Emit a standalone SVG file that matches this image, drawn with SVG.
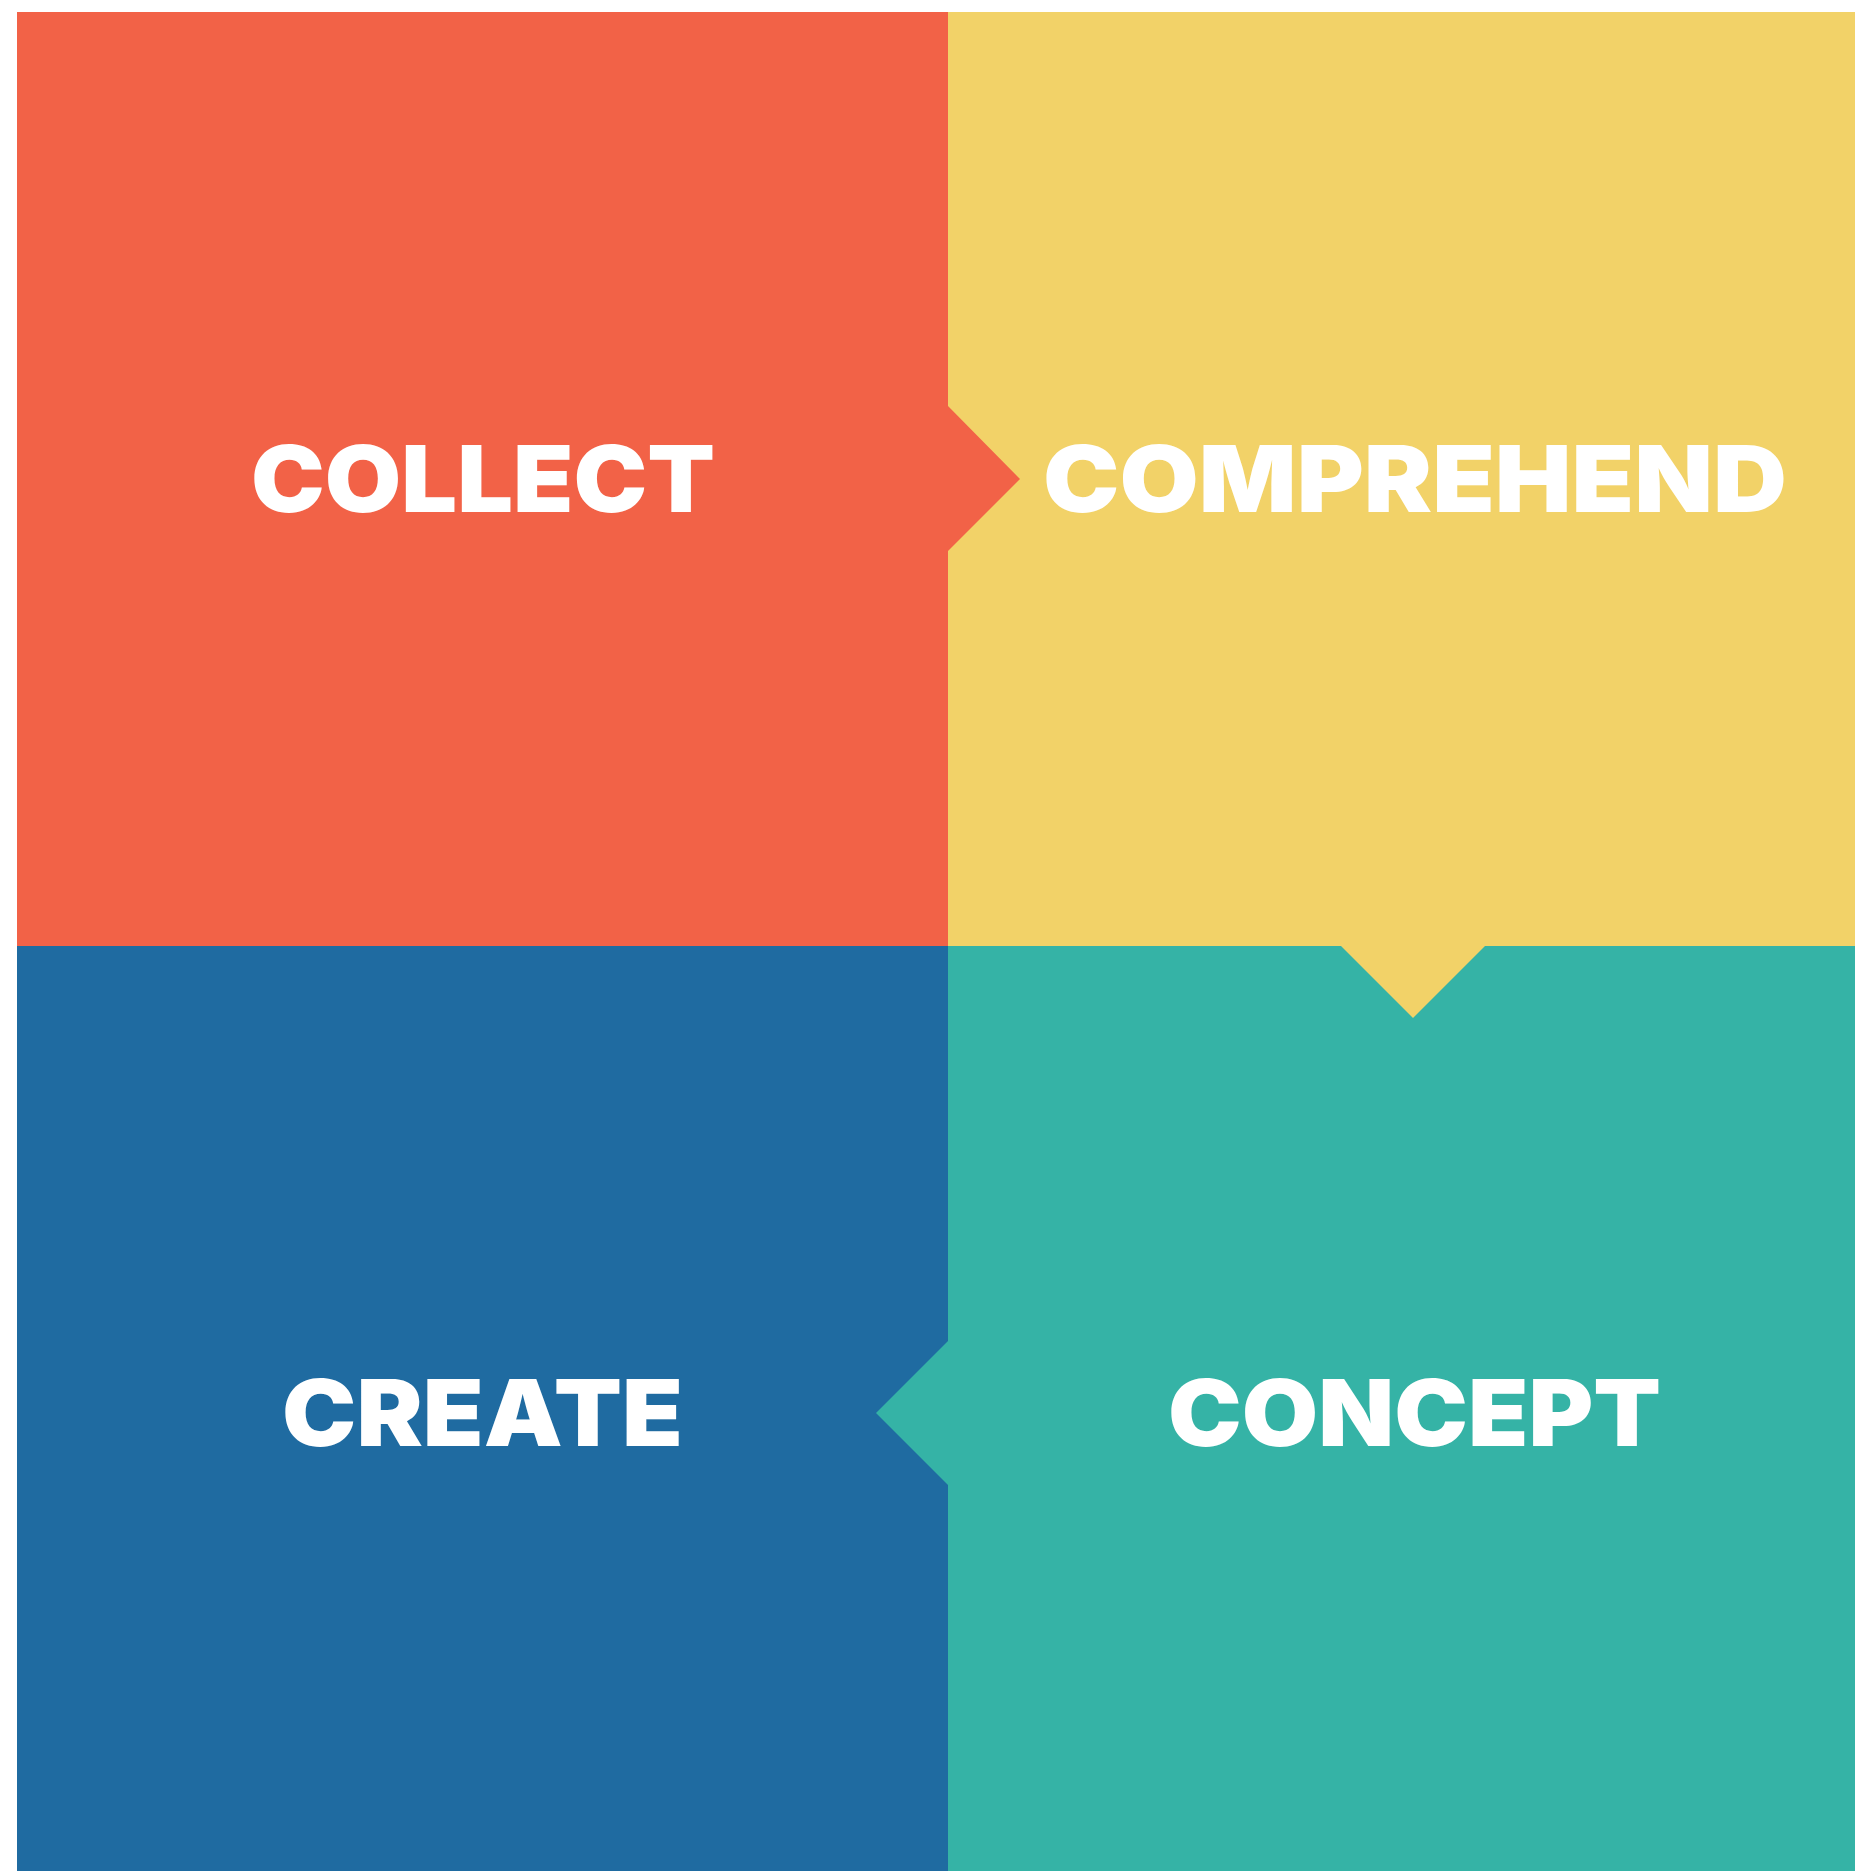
<svg xmlns="http://www.w3.org/2000/svg" width="1855" height="1871" viewBox="0 0 1855 1871">
<style>
.lbl{font-family:Inter,"Open Sans","Liberation Sans",sans-serif;font-weight:900;font-size:92px;fill:#FFFFFF;}
</style>
<rect x="0" y="0" width="1855" height="1871" fill="#FFFFFF"/>
<g id="comprehend">
<polygon points="948,12 1855,12 1855,946 948,946" fill="#F2D268"/>
</g>
<g id="concept">
<polygon points="948,946 1855,946 1855,1871 948,1871" fill="#35B3A6"/>
</g>
<g id="create">
<polygon points="17,946 948,946 948,1871 17,1871" fill="#1F6BA1"/>
</g>
<g id="collect">
<polygon points="17,12 948,12 948,406 1020,479 948,551 948,946 17,946" fill="#F26247"/>
</g>
<g id="connectors">
<polygon points="1341,946 1413,1018 1485,946" fill="#F2D268"/>
<polygon points="948,1341 876,1413 948,1485" fill="#35B3A6"/>
</g>
<g id="labels">
<text class="lbl" x="251" y="512" textLength="464" lengthAdjust="spacingAndGlyphs">COLLECT</text>
<text class="lbl" x="1043" y="512" textLength="744" lengthAdjust="spacingAndGlyphs">COMPREHEND</text>
<text class="lbl" x="282" y="1446" textLength="401" lengthAdjust="spacingAndGlyphs">CREATE</text>
<text class="lbl" x="1168" y="1446" textLength="493" lengthAdjust="spacingAndGlyphs">CONCEPT</text>
</g>
</svg>
